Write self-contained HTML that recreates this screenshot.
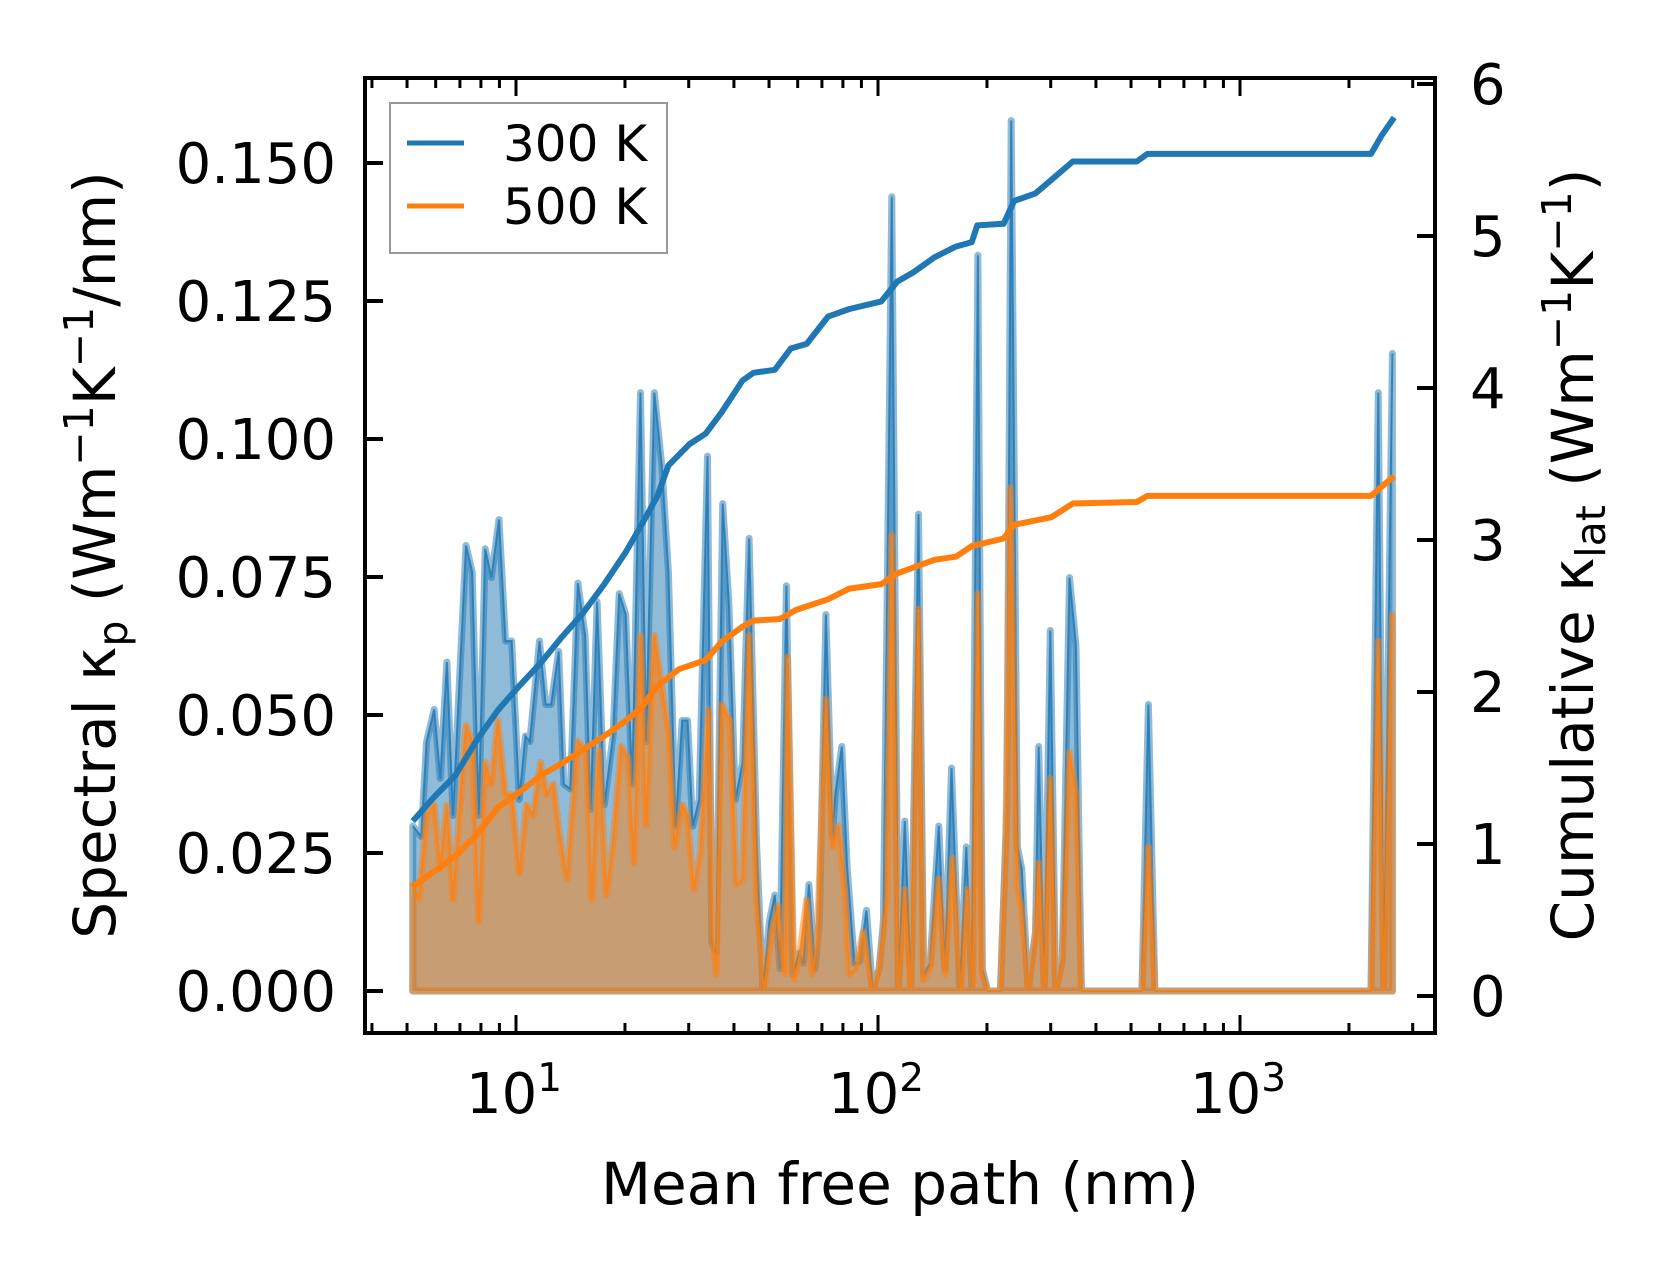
<!DOCTYPE html>
<html><head><meta charset="utf-8"><style>
body{margin:0;background:#fff}
svg text{font-family:"DejaVu Sans","Liberation Sans",sans-serif;fill:#000}
</style></head><body>
<svg id="chart" width="1660" height="1272" viewBox="0 0 1660 1272" xmlns="http://www.w3.org/2000/svg">
<g id="plot"></g>
</svg>
<script>
// log10 of mean free path (nm); spectral values in 1e-3 W/m/K/nm
const blueLogX=[0.715,0.738,0.753,0.774,0.791,0.809,0.826,0.862,0.879,0.897,0.915,0.932,0.953,0.971,0.988,1.009,1.026,1.038,1.065,1.082,1.097,1.118,1.132,1.150,1.171,1.191,1.206,1.224,1.244,1.268,1.285,1.303,1.321,1.344,1.359,1.382,1.403,1.421,1.441,1.459,1.474,1.488,1.506,1.529,1.541,1.553,1.571,1.588,1.606,1.626,1.644,1.665,1.682,1.700,1.715,1.729,1.747,1.765,1.782,1.794,1.809,1.826,1.838,1.856,1.874,1.882,1.900,1.915,1.935,1.950,1.968,1.985,2.003,2.015,2.038,2.056,2.074,2.091,2.112,2.126,2.144,2.168,2.185,2.203,2.226,2.244,2.259,2.276,2.288,2.303,2.338,2.356,2.368,2.385,2.397,2.415,2.435,2.444,2.459,2.476,2.491,2.509,2.529,2.547,2.562,2.729,2.747,2.765,3.362,3.382,3.397,3.421];
const blueSpec=[29.9,28.0,45.2,51.0,38.5,59.6,31.8,80.7,75.9,31.8,80.1,74.9,85.4,63.4,63.4,34.7,46.2,45.2,63.4,51.9,51.9,61.5,37.5,36.6,73.9,64.4,32.8,70.5,33.7,46.2,72.0,68.2,37.5,108.4,45.2,108.4,95.0,75.9,29.9,49.0,49.0,29.9,34.7,96.9,8.8,6.9,88.3,70.1,34.7,41.4,82.0,26.1,0.2,12.6,17.4,4.0,73.4,3.1,6.9,5.0,19.3,4.0,12.6,68.2,28.0,35.6,44.3,22.2,5.0,5.4,14.6,0.2,4.0,12.6,143.9,0.2,30.8,0.2,86.4,3.1,5.0,29.9,4.0,40.4,0.2,26.1,1.1,133.3,4.0,0,0,33.7,157.7,26.1,22.2,0,10.7,44.3,0,65.3,0,5.9,74.9,62.5,0,0,51.9,0,0,108.4,0,115.5];
const orangeLogX=[0.715,0.732,0.753,0.774,0.791,0.809,0.826,0.862,0.879,0.897,0.915,0.932,0.950,0.971,0.988,1.009,1.029,1.047,1.068,1.085,1.103,1.121,1.141,1.171,1.194,1.209,1.229,1.250,1.268,1.291,1.309,1.326,1.344,1.359,1.382,1.403,1.421,1.438,1.459,1.474,1.491,1.509,1.532,1.544,1.553,1.568,1.591,1.609,1.626,1.644,1.665,1.685,1.706,1.724,1.744,1.750,1.768,1.782,1.803,1.818,1.832,1.856,1.874,1.891,1.909,1.921,1.938,1.959,1.985,2.003,2.024,2.038,2.056,2.074,2.091,2.112,2.126,2.144,2.168,2.185,2.206,2.229,2.247,2.262,2.276,2.288,2.303,2.338,2.353,2.365,2.385,2.397,2.415,2.435,2.444,2.459,2.476,2.491,2.509,2.529,2.547,2.562,2.729,2.747,2.765,3.362,3.382,3.397,3.421];
const orangeSpec=[19.3,16.5,31.8,33.7,22.2,33.7,16.5,48.1,45.2,12.6,41.4,37.5,49.0,35.6,35.6,21.3,33.7,31.8,41.4,35.6,37.5,28.0,20.3,45.2,43.3,16.5,43.7,17.4,27.0,44.3,42.3,23.2,64.4,29.9,64.4,54.8,47.1,26.1,33.7,31.8,18.4,25.1,51.0,9.8,3.1,51.9,49.0,19.3,20.3,64.4,16.5,0,10.7,15.5,3.1,60.5,2.1,5.9,16.5,3.1,8.8,52.9,26.1,29.9,17.4,3.1,4.0,10.7,0,4.0,16.5,82.6,0,18.4,0,69.2,2.1,4.0,20.3,3.1,24.1,0,18.4,1.1,72.0,3.1,0,0,26.1,91.2,18.4,14.6,0,10.7,23.2,0,38.5,0,5.0,43.3,35.6,0,0,26.1,0,0,63.4,0,68.2];
const cumLogX=[0.715,0.774,0.832,0.891,0.950,1.009,1.068,1.126,1.185,1.244,1.303,1.347,1.391,1.421,1.479,1.524,1.568,1.626,1.656,1.715,1.759,1.803,1.862,1.921,2.009,2.053,2.097,2.156,2.215,2.259,2.274,2.347,2.376,2.435,2.479,2.538,2.715,2.744,3.362,3.391,3.426];
const cum300=[1.15,1.31,1.45,1.68,1.88,2.04,2.19,2.36,2.52,2.71,2.92,3.10,3.29,3.49,3.63,3.70,3.84,4.05,4.10,4.12,4.26,4.29,4.47,4.52,4.57,4.70,4.76,4.86,4.93,4.96,5.07,5.08,5.23,5.28,5.37,5.49,5.49,5.54,5.54,5.66,5.78];
const cum500LogX=[0.715,0.774,0.832,0.891,0.950,1.009,1.068,1.126,1.185,1.244,1.303,1.347,1.391,1.450,1.524,1.568,1.626,1.656,1.729,1.774,1.862,1.921,2.009,2.053,2.156,2.215,2.259,2.347,2.376,2.479,2.538,2.715,2.744,3.362,3.391,3.426];
const cum500=[0.72,0.82,0.92,1.06,1.24,1.34,1.45,1.53,1.62,1.71,1.81,1.90,2.04,2.15,2.21,2.33,2.43,2.47,2.48,2.54,2.61,2.68,2.71,2.78,2.87,2.89,2.96,3.01,3.10,3.15,3.24,3.25,3.29,3.29,3.35,3.42];
const leftTicks=[0,25,50,75,100,125,150];
const leftTickLabels=["0.000","0.025","0.050","0.075","0.100","0.125","0.150"];
const rightTicks=[0,1,2,3,4,5,6];
const xDecades=[1,2,3];

const L=365,R=1435,T=78,B=1033;
const X=l=>516+362*(l-1);
const YL=v=>991-v*5.52;
const YR=c=>996-c*152;
const NS="http://www.w3.org/2000/svg";
const g=document.getElementById('plot');
function mk(tag,attrs,parent){const e=document.createElementNS(NS,tag);for(const k in attrs)e.setAttribute(k,attrs[k]);(parent||g).appendChild(e);return e;}
function pts(xs,ys,fy){return xs.map((l,i)=>X(l).toFixed(1)+','+fy(ys[i]).toFixed(1)).join(' ');}

function spectral(xs,ys,col,name){
  const p=pts(xs,ys,YL);
  const base=X(xs[xs.length-1]).toFixed(1)+','+YL(0)+' '+X(xs[0]).toFixed(1)+','+YL(0);
  const f=mk('polygon',{points:p+' '+base,fill:col,'fill-opacity':0.5,stroke:col,'stroke-opacity':0.5,'stroke-width':7,'stroke-linejoin':'round'});
  
  
  const l=mk('polyline',{points:p,fill:'none',stroke:col,'stroke-width':2,'stroke-opacity':0.8});
  
  
}
spectral(blueLogX,blueSpec,'#1f77b4','spectral-300k');
spectral(orangeLogX,orangeSpec,'#ff7f0e','spectral-500k');
let c1=mk('polyline',{points:pts(cumLogX,cum300,YR),fill:'none',stroke:'#1f77b4','stroke-width':6,'stroke-linejoin':'round'});


let c2=mk('polyline',{points:pts(cum500LogX,cum500,YR),fill:'none',stroke:'#ff7f0e','stroke-width':6,'stroke-linejoin':'round'});



let fr=mk('rect',{x:L,y:T,width:R-L,height:B-T,fill:'none',stroke:'#000','stroke-width':4});


leftTicks.forEach((v,i)=>{
  const y=YL(v);
  mk('line',{x1:L,x2:L+18,y1:y,y2:y,stroke:'#000','stroke-width':4});
  const t=mk('text',{x:336,y:y+20,'font-size':56,'text-anchor':'end'});
  t.textContent=leftTickLabels[i];
  
  
});
rightTicks.forEach(v=>{
  const y=YR(v);
  mk('line',{x1:R-18,x2:R,y1:y,y2:y,stroke:'#000','stroke-width':4});
  const t=mk('text',{x:1470,y:y+20,'font-size':56});
  t.textContent=String(v);
  
  
});
for(let d=0;d<=3;d++){for(let m=1;m<=9;m++){const l=d+Math.log10(m);if(l<0.583||l>3.539)continue;const x=X(l);const len=m===1?18:10;
  mk('line',{x1:x,x2:x,y1:B,y2:B-len,stroke:'#000','stroke-width':3});
  mk('line',{x1:x,x2:x,y1:T,y2:T+len,stroke:'#000','stroke-width':3});}}
xDecades.forEach(d=>{
  const t=mk('text',{x:X(d)-2,y:1113,'font-size':56,'text-anchor':'middle'});
  t.innerHTML='10<tspan dy="-22" font-size="39">'+d+'</tspan>';
  
  
});
let xt=mk('text',{x:900,y:1204,'font-size':58,'text-anchor':'middle'});xt.textContent='Mean free path (nm)';


let yt=mk('text',{x:0,y:0,'font-size':58,'text-anchor':'middle',transform:'translate(115,555) rotate(-90)'});
yt.innerHTML='Spectral κ<tspan dy="12" font-size="41">p</tspan><tspan dy="-12"> (Wm</tspan><tspan dy="-22" font-size="41">−1</tspan><tspan dy="22">K</tspan><tspan dy="-22" font-size="41">−1</tspan><tspan dy="22">/nm)</tspan>';


let yt2=mk('text',{x:0,y:0,'font-size':58,'text-anchor':'middle',transform:'translate(1593,555) rotate(-90)'});
yt2.innerHTML='Cumulative κ<tspan dy="12" font-size="41">lat</tspan><tspan dy="-12"> (Wm</tspan><tspan dy="-22" font-size="41">−1</tspan><tspan dy="22">K</tspan><tspan dy="-22" font-size="41">−1</tspan><tspan dy="22">)</tspan>';


let lg=mk('g',{});


mk('rect',{x:390,y:103,width:277,height:150,fill:'#fff','fill-opacity':0.8,stroke:'#999','stroke-width':2},lg);
[['300 K','#1f77b4',143],['500 K','#ff7f0e',206]].forEach(([lab,col,y])=>{
  mk('line',{x1:407,x2:464,y1:y,y2:y,stroke:col,'stroke-width':5},lg);
  const t=mk('text',{x:503,y:y+18,'font-size':50},lg);t.textContent=lab;
  
  
});
</script>
</body></html>
